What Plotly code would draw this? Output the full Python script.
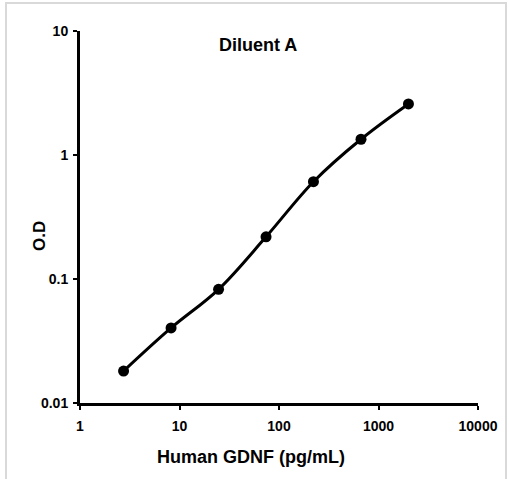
import plotly.graph_objects as go

conc = [2.74, 8.23, 24.7, 74.1, 222, 667, 2000]
od = [0.0181, 0.0403, 0.0826, 0.219, 0.609, 1.34, 2.58]
x_ticks = [1, 10, 100, 1000, 10000]
x_tick_text = ["1", "10", "100", "1000", "10000"]
y_ticks = [0.01, 0.1, 1, 10]
y_tick_text = ["0.01", "0.1", "1", "10"]

W, H = 509, 479
L, R, T, B = 80, 31, 31, 76
PW, PH = W - L - R, H - T - B
FONT = "Liberation Sans Narrow, Liberation Sans, Arial"


def px(x):
    return (x - L) / PW


def py(y):
    return 1 - (y - T) / PH


fig = go.Figure()
fig.add_trace(go.Scatter(
    x=conc, y=od, mode="lines+markers",
    line=dict(color="black", width=3, shape="spline", smoothing=1.0),
    marker=dict(color="black", size=11),
    showlegend=False,
))

axis_common = dict(
    type="log", showgrid=False, zeroline=False,
    showline=True, linecolor="black", linewidth=3,
    ticks="outside", ticklen=4, tickwidth=2, tickcolor="black",
    tickfont=dict(family=FONT, size=14, weight="bold"),
)

fig.update_layout(
    width=W, height=H,
    margin=dict(l=L, r=R, t=T, b=B),
    paper_bgcolor="white", plot_bgcolor="white",
    font=dict(family=FONT, color="black"),
    xaxis=dict(range=[0, 4], tickvals=x_ticks, ticktext=x_tick_text,
               ticklabelstandoff=4, **axis_common),
    yaxis=dict(range=[-2, 1], tickvals=y_ticks, ticktext=y_tick_text,
               ticklabelstandoff=2, **axis_common),
    annotations=[
        dict(text="Diluent A", xref="paper", yref="paper",
             x=px(258), y=py(45), showarrow=False,
             xanchor="center", yanchor="middle",
             font=dict(family=FONT, size=18, color="black", weight="bold")),
        dict(text="Human GDNF (pg/mL)", xref="paper", yref="paper",
             x=px(251), y=py(457), showarrow=False,
             xanchor="center", yanchor="middle",
             font=dict(family=FONT, size=18, color="black", weight="bold")),
        dict(text="O.D", xref="paper", yref="paper",
             x=px(40), y=py(236), showarrow=False, textangle=-90,
             xanchor="center", yanchor="middle",
             font=dict(family=FONT, size=17, color="black", weight="bold")),
    ],
    shapes=[dict(
        type="rect", xref="paper", yref="paper",
        x0=px(6), x1=px(506), y0=py(495), y1=py(3),
        line=dict(color="#d9d9d9", width=2), layer="below",
    )],
)

fig.write_html("out.html", config={"displayModeBar": False},
               post_script="document.body.style.margin='0px';")
